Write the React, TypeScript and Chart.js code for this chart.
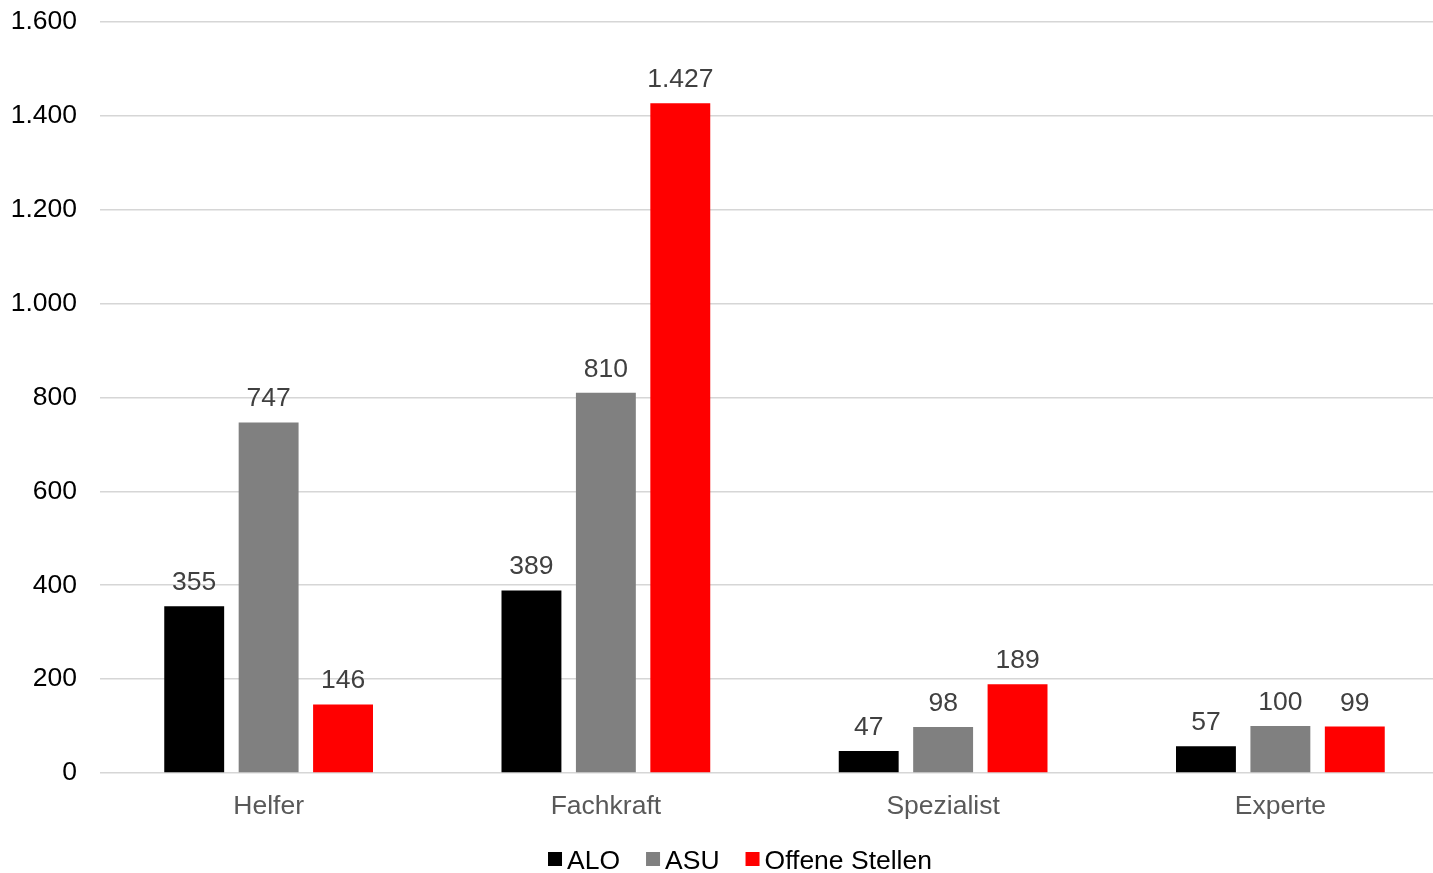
import React, { useEffect, useRef } from "react";
import { Chart, registerables } from "chart.js";

Chart.register(...registerables);

const categories = ["Helfer", "Fachkraft", "Spezialist", "Experte"];
const seriesNames = ["ALO", "ASU", "Offene Stellen"];
const aloValues = [355, 389, 47, 57];
const asuValues = [747, 810, 98, 100];
const offeneValues = [146, 1427, 189, 99];
const seriesColors = ["#000000", "#808080", "#FF0000"];
const yMin = 0;
const yMax = 1600;
const yStep = 200;

const FONT = "'Liberation Sans', Arial, sans-serif";
const FS = 26.5;

function fmt(v: number): string {
  const s = Math.round(v).toString();
  return s.replace(/\B(?=(\d{3})+(?!\d))/g, ".");
}

const dataLabelPlugin = {
  id: "dataLabels",
  afterDatasetsDraw(chart: any) {
    const ctx = chart.ctx;
    ctx.save();
    ctx.font = `${FS}px ${FONT}`;
    ctx.fillStyle = "#404040";
    ctx.textAlign = "center";
    ctx.textBaseline = "alphabetic";
    chart.data.datasets.forEach((ds: any, i: number) => {
      const meta = chart.getDatasetMeta(i);
      meta.data.forEach((el: any, j: number) => {
        ctx.fillText(fmt(ds.data[j]), el.x, el.y - 16);
      });
    });
    ctx.restore();
  },
};

const customLegendPlugin = {
  id: "customLegend",
  afterDraw(chart: any) {
    const ctx = chart.ctx;
    ctx.save();
    ctx.font = `${FS}px ${FONT}`;
    ctx.textBaseline = "alphabetic";
    ctx.textAlign = "left";
    const box = 14;
    const gap = 5;
    const spacing = 26;
    const items = chart.data.datasets.map((ds: any) => ({
      label: ds.label,
      color: ds.backgroundColor,
      w: ctx.measureText(ds.label).width,
    }));
    const total =
      items.reduce((a: number, it: any) => a + box + gap + it.w, 0) +
      spacing * (items.length - 1);
    const area = chart.chartArea;
    const cx = (area.left + area.right) / 2 - 34.5;
    let x = cx - total / 2;
    const cy = chart.height - 14;
    items.forEach((it: any) => {
      ctx.fillStyle = it.color;
      ctx.fillRect(x, cy - box / 2, box, box);
      x += box + gap;
      ctx.fillStyle = "#000000";
      ctx.fillText(it.label, x, cy + 9.5);
      x += it.w + spacing;
    });
    ctx.restore();
  },
};

export default function App() {
  const ref = useRef<HTMLCanvasElement>(null);
  useEffect(() => {
    if (!ref.current) return;
    const values = [aloValues, asuValues, offeneValues];
    const chart = new Chart(ref.current, {
      type: "bar",
      data: {
        labels: categories,
        datasets: seriesNames.map((name, i) => ({
          label: name,
          data: values[i],
          backgroundColor: seriesColors[i],
          categoryPercentage: 0.662,
          barPercentage: 0.805,
        })),
      },
      options: {
        animation: false,
        responsive: false,
        layout: { padding: { top: 22, right: 0, bottom: 50, left: 0 } },
        plugins: {
          legend: { display: false },
          tooltip: { enabled: false },
        },
        scales: {
          x: {
            grid: { display: false, drawTicks: false },
            border: { display: false },
            ticks: {
              color: "#595959",
              font: { family: FONT, size: FS },
              padding: 18,
            },
            afterFit: (s: any) => {
              s.height = 50;
              s.paddingLeft = 0;
              s.paddingRight = 0;
            },
          },
          y: {
            min: yMin,
            max: yMax,
            grid: { color: "#d6d6d6", lineWidth: 1.6, drawTicks: false },
            border: { display: false },
            ticks: {
              stepSize: yStep,
              color: "#000000",
              font: { family: FONT, size: FS },
              padding: 23,
              callback: (v: any) => fmt(Number(v)),
            },
            afterFit: (s: any) => {
              s.width = 100;
              s.paddingTop = 0;
              s.paddingBottom = 0;
            },
          },
        },
      },
      plugins: [dataLabelPlugin, customLegendPlugin],
    });
    return () => chart.destroy();
  }, []);
  return (
    <div style={{ position: "fixed", left: 0, top: 0, width: 1433, height: 873, background: "#fff", overflow: "hidden" }}>
      <canvas ref={ref} width={1449} height={873} />
    </div>
  );
}
